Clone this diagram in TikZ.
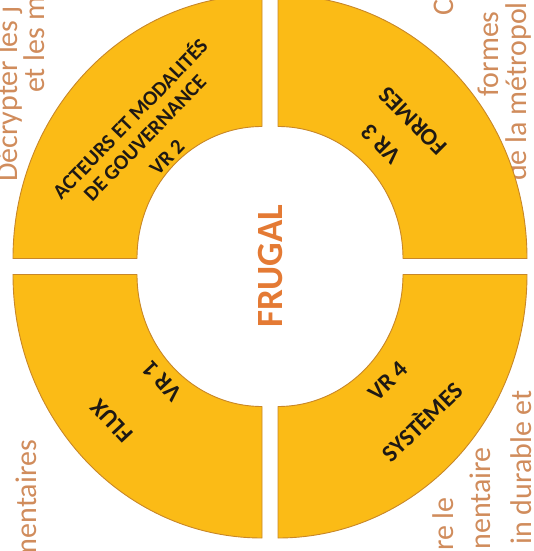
\documentclass[tikz,border=0pt]{standalone}
\usepackage{fontspec}
\setmainfont{Carlito}
\definecolor{quadfill}{RGB}{251,187,22}
\definecolor{quadline}{RGB}{200,135,40}
\definecolor{frugalc}{RGB}{228,122,52}
\definecolor{bgtext}{RGB}{208,140,92}
\definecolor{labelc}{RGB}{30,25,20}
\tikzset{
  quad/.style={fill=quadfill, draw=quadline, line width=0.9pt, line join=round},
  lab/.style={text=labelc, font=\fontsize{24}{26}\selectfont\bfseries, inner sep=0pt},
  labsmall/.style={text=labelc, font=\fontsize{21}{24}\selectfont\bfseries, inner sep=0pt},
  bgline/.style={text=bgtext, font=\fontsize{30}{32}\selectfont, inner sep=0pt, rotate=90},
}
\begin{document}
\begin{tikzpicture}[x=1pt,y=1pt]
\useasboundingbox (-270,-284.5) rectangle (263,266.5);
\clip (-270,-284.5) rectangle (263,266.5);
% background text fragments
\node[bgline, anchor=base west] (t1) at (-252,84.5) {Décrypter les j};
\node[bgline, anchor=base west] (t2) at (-225,173.5) {et les m};
\node[bgline, anchor=base west] (t3) at (183,251) {C};
\node[bgline, anchor=base west] (t4) at (228,169.5) {formes};
\node[bgline, anchor=base west] (t5) at (256,85.5) {de la métropol};
\node[bgline, anchor=base east] (t6) at (-233,-173.5) {mentaires};
\node[bgline, anchor=base east] (t7) at (183,-230.5) {re le};
\node[bgline, anchor=base east] (t8) at (220,-180.5) {nentaire};
\node[bgline, anchor=base east] (t9) at (261,-123.5) {in durable et};
% quadrants
\draw[quad] (-8,271.5) arc[start angle=90,end angle=180,x radius=249,y radius=263.5]
  -- (-133,8) arc[start angle=180,end angle=90,x radius=125,y radius=132] -- cycle;
\draw[quad] (257,8) arc[start angle=0,end angle=90,x radius=249,y radius=263.5]
  -- (8,140) arc[start angle=90,end angle=0,x radius=125,y radius=132] -- cycle;
\draw[quad] (-257,-8) arc[start angle=180,end angle=270,x radius=249,y radius=263.5]
  -- (-8,-140) arc[start angle=270,end angle=180,x radius=125,y radius=132] -- cycle;
\draw[quad] (8,-271.5) arc[start angle=270,end angle=360,x radius=249,y radius=263.5]
  -- (133,-8) arc[start angle=360,end angle=270,x radius=125,y radius=132] -- cycle;
% labels
\node[labsmall, rotate=46] (a1) at (-141,148.5) {ACTEURS ET MODALITÉS};
\node[labsmall, rotate=46] (a2) at (-125,128.5) {DE GOUVERNANCE};
\node[labsmall, rotate=46] (a3) at (-103,109.5) {VR 2};
\node[lab, rotate=135] (b1) at (111,122.5) {VR 3};
\node[lab, rotate=135] (b2) at (143,145.5) {FORMES};
\node[lab, rotate=44] (c1) at (118,-114.5) {VR 4};
\node[lab, rotate=44] (c2) at (151,-154.5) {SYSTÈMES};
\node[lab, rotate=133] (d1) at (-158,-154.5) {FLUX};
\node[lab, rotate=133] (d2) at (-108,-114.5) {VR 1};
\node[text=frugalc, font=\fontsize{37}{40}\selectfont\bfseries, rotate=90, inner sep=0pt] (fr) at (1,0.5) {FRUGAL};
\end{tikzpicture}
\end{document}
